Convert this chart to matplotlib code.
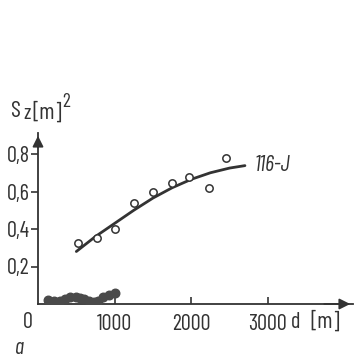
import matplotlib
matplotlib.use("Agg")
import matplotlib.pyplot as plt

# open circles (116-J)
d_open = [520, 766, 1009, 1251, 1494, 1745, 1965, 2225, 2459]
s_open = [0.327, 0.35, 0.40, 0.54, 0.60, 0.645, 0.68, 0.62, 0.78]

# fitted curve
d_fit = [500, 750, 1000, 1250, 1500, 1750, 2000, 2250, 2500, 2700]
s_fit = [0.28, 0.36, 0.43, 0.50, 0.565, 0.62, 0.665, 0.70, 0.725, 0.738]

# filled dots near zero
d_fill = [134, 208, 286, 351, 416, 494, 545, 597, 662, 727, 779, 844, 922, 1000]
s_fill = [0.021, 0.018, 0.014, 0.025, 0.039, 0.036, 0.032, 0.025, 0.018,
          0.012, 0.014, 0.039, 0.05, 0.06]

x_ticks = [1000, 2000, 3000]
y_ticks = [0.2, 0.4, 0.6, 0.8]
y_labels = ["0,2", "0,4", "0,6", "0,8"]

ink = "#333333"
font = ["Barlow Condensed", "Roboto Condensed", "DejaVu Sans"]
fs = 16

W, H = 354, 359
fig = plt.figure(figsize=(W / 100, H / 100), dpi=100)
ax = fig.add_axes([38 / W, (H - 304) / H, (353 - 38) / W, (304 - 133) / H])
ax.set_xlim(0, 4110)
ax.set_ylim(0, 0.912)

ax.plot(d_fit, s_fit, color=ink, lw=2.0, solid_capstyle="round")
ax.scatter(d_open, s_open, s=28, facecolors="white", edgecolors=ink, linewidths=1.1, zorder=3)
ax.scatter(d_fill, s_fill, s=38, color="#4a4a4a", zorder=3)

for sp in ["top", "right"]:
    ax.spines[sp].set_visible(False)
for sp in ["left", "bottom"]:
    ax.spines[sp].set_color(ink)
    ax.spines[sp].set_linewidth(1.3)

# arrow heads
ax.annotate("", xy=(1.0, 0), xytext=(0.9, 0), xycoords="axes fraction",
            arrowprops=dict(arrowstyle="-|>", color=ink, lw=1.3, mutation_scale=16))
ax.annotate("", xy=(0, 1.0), xytext=(0, 0.9), xycoords="axes fraction",
            arrowprops=dict(arrowstyle="-|>", color=ink, lw=1.3, mutation_scale=16))

ax.set_xticks(x_ticks)
ax.set_xticklabels([str(v) for v in x_ticks], family=font, fontsize=fs, color=ink)
ax.set_yticks(y_ticks)
ax.set_yticklabels(y_labels, family=font, fontsize=fs, color=ink)
ax.tick_params(axis="x", direction="in", length=5, width=1.2, color=ink, pad=7)
ax.tick_params(axis="y", direction="out", length=5, width=1.2, color=ink, pad=1)

ax.text(-75, -0.04, "0", ha="right", va="top", family=font, fontsize=fs, color=ink)
ax.text(3300, -0.04, "d", ha="left", va="top", family=font, fontsize=fs, color=ink)
ax.text(3560, -0.04, "[m]", ha="left", va="top", family=font, fontsize=fs + 1, color=ink)
ax.text(2830, 0.74, "116-J", ha="left", va="center", family=font, fontsize=fs,
        style="italic", color=ink)

# y axis label, placed piece by piece
def px(x, y):
    return x / W, 1 - y / H

fig.text(*px(11, 117), "S", ha="left", va="baseline", family=font, fontsize=fs + 1, color=ink)
fig.text(*px(23, 119), "z", ha="left", va="baseline", family=font, fontsize=fs - 1, color=ink)
fig.text(*px(32, 119), "[m]", ha="left", va="baseline", family=font, fontsize=fs + 1, color=ink)
fig.text(*px(62, 107), "2", ha="left", va="baseline", family=font, fontsize=fs - 2, color=ink)

fig.text(*px(15, 354), "a", ha="left", va="baseline", family=font, fontsize=fs,
         style="italic", color=ink)

fig.savefig("out.png", dpi=100)
